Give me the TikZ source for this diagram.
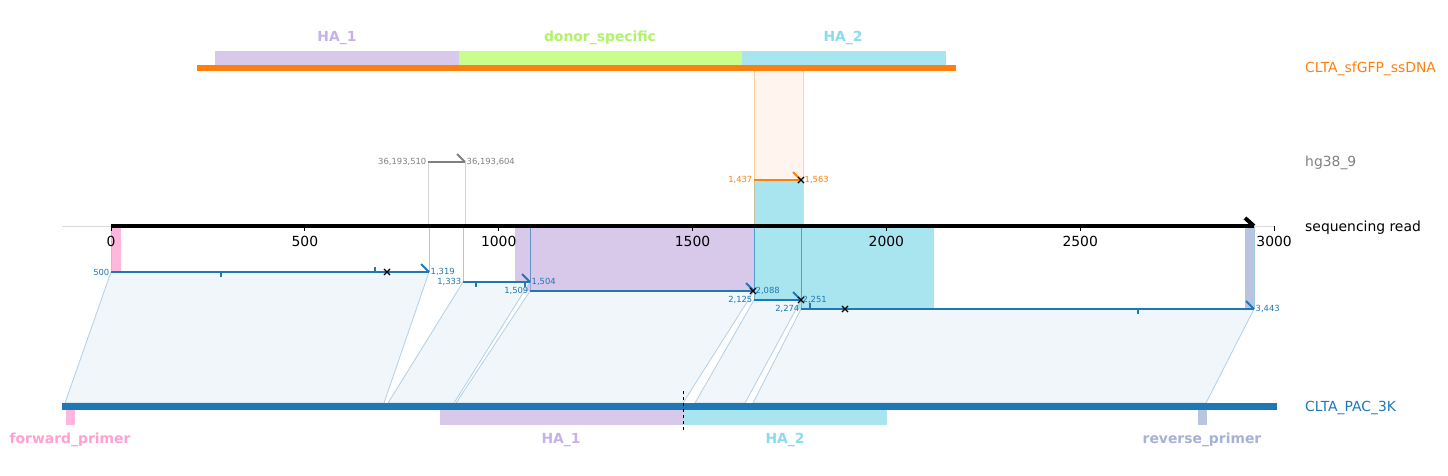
\documentclass[tikz,border=0pt]{standalone}
\usepackage{fontspec}
\setmainfont{DejaVu Sans}
\usetikzlibrary{shapes.misc}

\definecolor{refblue}{HTML}{1F77B4}
\definecolor{ssorange}{HTML}{FF7F0E}
\definecolor{hggray}{HTML}{808080}
\definecolor{hafill}{HTML}{D8C8EA}
\definecolor{hatext}{HTML}{C6B2E6}
\definecolor{donorfill}{HTML}{C8FF8C}
\definecolor{donortext}{HTML}{B0F26A}
\definecolor{hbfill}{HTML}{A8E5EE}
\definecolor{hbtext}{HTML}{8ADCEB}
\definecolor{fwdfill}{HTML}{FFB8DC}
\definecolor{fwdtext}{HTML}{FFA0D0}
\definecolor{revfill}{HTML}{B9C5DF}
\definecolor{revtext}{HTML}{A3B2D6}
\definecolor{blockfill}{HTML}{F1F6FA}
\definecolor{blockedge}{HTML}{B2D0E6}
\definecolor{ssshade}{HTML}{FFF5EE}

\tikzset{
  biglabel/.style={font=\fontsize{13.9}{16}\selectfont, inner sep=0pt},
  featlabel/.style={font=\fontsize{13.9}{16}\selectfont\bfseries, inner sep=0pt, anchor=base},
  poslabel/.style={font=\fontsize{8.4}{10}\selectfont, inner sep=1.5pt},
  hitline/.style={line width=2pt},
  barb/.style={line width=2pt},
  xmark/.style={cross out, draw=black, line width=1.1pt, minimum size=5pt, inner sep=0pt},
  blockshape/.style={fill=blockfill, draw=blockedge, line width=0.8pt},
  guide/.style={refblue, opacity=0.4, line width=1pt},
}

\begin{document}
\begin{tikzpicture}[x=1pt, y=-1pt]
  \useasboundingbox (0,0) rectangle (1448,476);
  % read axis: 0 bp at x=111, 0.3877 px per bp
  \def\bpx{0.3877}

  % ---- donor ssDNA (top) ----
  \fill[hafill]    (215,51) rectangle (459,65);
  \fill[donorfill] (459,51) rectangle (742,65);
  \fill[hbfill]    (742,51) rectangle (946,65);
  \fill[ssorange]  (197,65) rectangle (956,71.5);
  \node[featlabel, text=hatext]    (ssHA1)   at (337,42) {HA\_1};
  \node[featlabel, text=donortext] (ssdonor) at (600,42) {donor\_specific};
  \node[featlabel, text=hbtext]    (ssHA2)   at (843,42) {HA\_2};

  % ssDNA hit projected onto the read
  \fill[ssshade] (754,71.5) rectangle (803,180);
  \fill[hbfill]  (754,180) rectangle (803,226);
  \draw[ssorange, opacity=0.35, line width=1pt] (754,71.5) -- (754,226) (803,71.5) -- (803,226);

  % ---- regions on the read ----
  \fill[fwdfill] (112,226) rectangle (121,272);
  \fill[hafill]  (515,226) rectangle (754,291);
  \fill[hbfill]  (754,226) rectangle (934,309);
  \fill[revfill] (1245,226) rectangle (1254,309);

  % ---- reference CLTA_PAC_3K (bottom) ----
  \fill[fwdfill] (66,410) rectangle (75,425);
  \fill[hafill]  (440,410) rectangle (683,425);
  \fill[hbfill]  (683,410) rectangle (887,425);
  \fill[revfill] (1198,410) rectangle (1207,425);

  % alignment blocks: row / y / read start-end / labels / ref start-end
  \foreach \n/\y/\xa/\xb/\la/\lb/\ba/\bb in {
    1/272/111/429/500/{1,319}/65/384,
    2/282/463/530/{1,333}/{1,504}/388/454,
    3/291/530/754/{1,509}/{2,088}/456/683,
    4/300/754/801/{2,125}/{2,251}/695/745,
    5/309/801/1254/{2,274}/{3,443}/753/1206%
  } {
    \draw[blockshape] (\xa,\y) -- (\xb,\y) -- (\bb,403) -- (\ba,403) -- cycle;
    \draw[guide] (\xa,226) -- (\xa,\y) (\xb,226) -- (\xb,\y);
    \draw[refblue, hitline] (\xa,\y) -- (\xb,\y);
    \draw[refblue, barb] (\xb-8,\y-8) -- (\xb,\y);
    \node[poslabel, text=refblue, anchor=east] (l\n) at (\xa,\y) {\la};
    \node[poslabel, text=refblue, anchor=west] (r\n) at (\xb,\y) {\lb};
  }

  % small marks on the hits
  \foreach \x/\y/\d in {221/272/5, 375/272/-5, 476/282/5, 525/282/5, 810/309/-6, 1138/309/5}
    \draw[refblue, line width=2pt] (\x,\y) -- ++(0,\d);
  \foreach \x/\y in {387/272, 753/291, 801/300, 845/309}
    \node[xmark] at (\x,\y) {};

  \fill[refblue] (62,403) rectangle (1277,410);
  \draw[black, dashed, line width=1pt] (683,391) -- (683,431);
  \node[featlabel, text=fwdtext] (refFwd) at (70,443)   {forward\_primer};
  \node[featlabel, text=hatext]  (refHA1) at (561,443)  {HA\_1};
  \node[featlabel, text=hbtext]  (refHA2) at (785,443)  {HA\_2};
  \node[featlabel, text=revtext] (refRev) at (1202,443) {reverse\_primer};

  % ---- hg38 hit ----
  \draw[hggray, opacity=0.35, line width=1pt] (428,162) -- (428,226) (465,162) -- (465,226);
  \draw[hggray, hitline] (428,162) -- (465,162);
  \draw[hggray, barb] (457,154) -- (465,162);
  \node[poslabel, text=hggray, anchor=east] (hgL) at (428,162) {36,193,510};
  \node[poslabel, text=hggray, anchor=west] (hgR) at (465,162) {36,193,604};

  % ---- ssDNA hit ----
  \draw[ssorange, hitline] (754,180) -- (801,180);
  \draw[ssorange, barb] (793,172) -- (801,180);
  \node[xmark] at (801,180) {};
  \node[poslabel, text=ssorange, anchor=east] (ssL) at (754,180) {1,437};
  \node[poslabel, text=ssorange, anchor=west] (ssR) at (803,180) {1,563};

  % ---- read axis ----
  \draw[black!15, line width=0.8pt] (62,226) -- (1274,226);
  \foreach \v in {0,500,...,3000} {
    \draw[black, line width=0.8pt] ({111+\v*\bpx},226) -- ++(0,5);
    \node[biglabel, anchor=north] (t\v) at ({111+\v*\bpx},236) {\v};
  }
  \draw[black, line width=4pt] (111,226) -- (1254,226);
  \draw[black, line width=4pt] (1245,218) -- (1254,226);

  % track names
  \node[biglabel, anchor=base west, text=ssorange] (nameSS)  at (1305,73)  {CLTA\_sfGFP\_ssDNA};
  \node[biglabel, anchor=base west, text=hggray]   (nameHG)  at (1305,167) {hg38\_9};
  \node[biglabel, anchor=base west]                (nameRd)  at (1305,231) {sequencing read};
  \node[biglabel, anchor=base west, text=refblue]  (nameRef) at (1305,411) {CLTA\_PAC\_3K};
\end{tikzpicture}
\end{document}
